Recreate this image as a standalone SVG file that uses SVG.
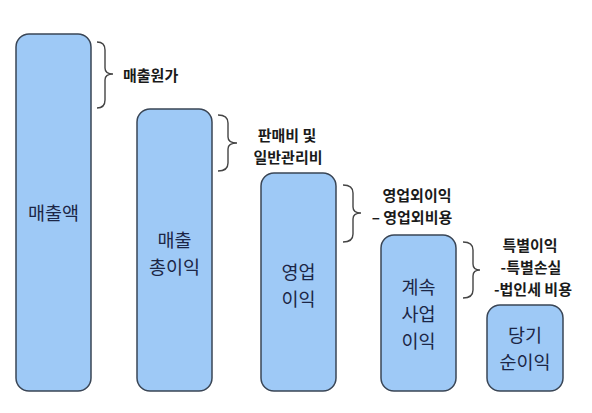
<svg xmlns="http://www.w3.org/2000/svg" width="592" height="413" viewBox="0 0 592 413">
<style>
.box{fill:#9ec9f6;stroke:#3a4656;stroke-width:1.5}
.bt{font-family:"Noto Sans CJK KR","Noto Sans",sans-serif;font-size:18.5px;fill:#1c2646;text-anchor:middle}
.lb{font-family:"Noto Sans CJK KR","Noto Sans",sans-serif;font-size:15px;font-weight:bold;fill:#1a1a1a}
.br{fill:none;stroke:#444;stroke-width:1.4}
</style>
<rect width="592" height="413" fill="#fff"/>
<g id="sales"><rect class="box" x="16" y="34" width="75" height="357" rx="13"/><text class="bt" x="53.5" y="220">매출액</text></g>
<g id="gross"><rect class="box" x="137" y="109" width="75" height="282" rx="13"/><text class="bt" x="174.5" y="247">매출</text><text class="bt" x="174.5" y="274">총이익</text></g>
<g id="operating"><rect class="box" x="261" y="173" width="75" height="218" rx="13"/><text class="bt" x="298.5" y="279">영업</text><text class="bt" x="298.5" y="306">이익</text></g>
<g id="continuing"><rect class="box" x="381" y="235" width="75" height="156" rx="13"/><text class="bt" x="418.5" y="294">계속</text><text class="bt" x="418.5" y="321">사업</text><text class="bt" x="418.5" y="348">이익</text></g>
<g id="net"><rect class="box" x="487" y="305" width="76" height="86" rx="13"/><text class="bt" x="525" y="342">당기</text><text class="bt" x="525" y="369">순이익</text></g>
<g id="connectors">
<path class="br" d="M97,42 Q105,42 105,50 L105,68 Q105,74 113,74 Q105,74 105,80 L105,100 Q105,108 97,108"/>
<path class="br" d="M218,115 Q228,115 228,123 L228,137 Q228,143 237,143 Q228,143 228,149 L228,163 Q228,171 218,171"/>
<path class="br" d="M343,185 Q353,185 353,193 L353,207 Q353,213 361,213 Q353,213 353,219 L353,234 Q353,242 343,242"/>
<path class="br" d="M463,242 Q473,242 473,250 L473,264 Q473,270 480,270 Q473,270 473,276 L473,290 Q473,298 463,298"/>
</g>
<g id="labels">
<text class="lb" x="123" y="81">매출원가</text>
<text class="lb" x="287" y="141" text-anchor="middle">판매비 및</text>
<text class="lb" x="288" y="163" text-anchor="middle">일반관리비</text>
<text class="lb" x="417" y="201" text-anchor="middle">영업외이익</text>
<text class="lb" x="412" y="223" text-anchor="middle">– 영업외비용</text>
<text class="lb" x="530" y="251" text-anchor="middle">특별이익</text>
<text class="lb" x="531" y="273" text-anchor="middle">-특별손실</text>
<text class="lb" x="533" y="295" text-anchor="middle">-법인세 비용</text>
</g>
</svg>
